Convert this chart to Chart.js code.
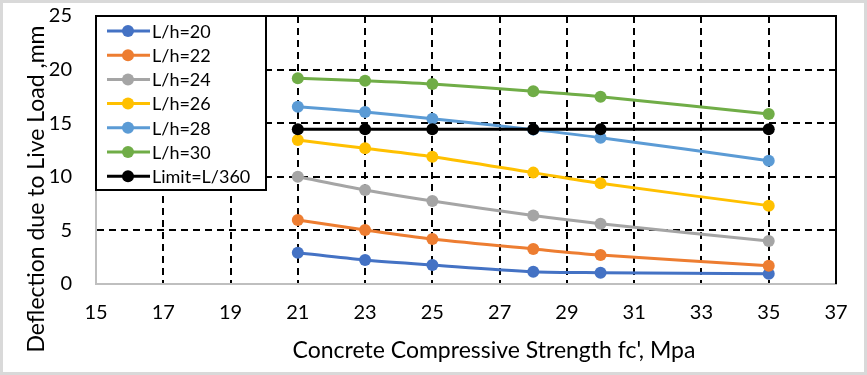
<!DOCTYPE html>
<html>
<head>
<meta charset="utf-8">
<script src="https://cdn.jsdelivr.net/npm/chart.js@4.4.0/dist/chart.umd.min.js"></script>
<style>
  html, body { margin: 0; padding: 0; background: #fff; }
</style>
</head>
<body>
<canvas id="myChart" width="867" height="375"></canvas>
<script>
// concrete strength fc' (MPa) and deflection (mm) per span/depth ratio
const strength = [21, 23, 25, 28, 30, 35];
const lh20 = [2.92, 2.24, 1.77, 1.15, 1.06, 0.96];
const lh22 = [5.97, 5.04, 4.20, 3.27, 2.70, 1.71];
const lh24 = [10.01, 8.77, 7.74, 6.38, 5.63, 4.01];
const lh26 = [13.43, 12.66, 11.88, 10.39, 9.39, 7.31];
const lh28 = [16.54, 16.04, 15.42, 14.40, 13.65, 11.50];
const lh30 = [19.19, 18.97, 18.66, 17.97, 17.47, 15.86];
const limit = [14.44, 14.44, 14.44, 14.44, 14.44, 14.44];

const seriesNames = ['L/h=20', 'L/h=22', 'L/h=24', 'L/h=26', 'L/h=28', 'L/h=30', 'Limit=L/360'];
const seriesValues = [lh20, lh22, lh24, lh26, lh28, lh30, limit];
const colors = ['#4472C4', '#ED7D31', '#A5A5A5', '#FFC000', '#5B9BD5', '#70AD47', '#000000'];

const xTitle = "Concrete Compressive Strength fc', Mpa";
const yTitle = 'Deflection due to Live Load ,mm';
const fontFamily = 'Lato, "Liberation Sans", sans-serif';

const datasets = seriesValues.map((vals, i) => ({
    label: seriesNames[i],
    data: vals.map((v, j) => ({ x: strength[j], y: v })),
    borderColor: colors[i],
    backgroundColor: colors[i],
    borderWidth: 3,
    pointRadius: 6,
    pointBorderWidth: 0,
    pointHoverRadius: 6,
    tension: 0.3,
    order: seriesValues.length - i
}));

// frame, titles and the boxed legend inside the plot
const decor = {
    id: 'decor',
    afterDraw(chart) {
        const { ctx, chartArea: a } = chart;
        ctx.save();
        // outer border
        ctx.strokeStyle = '#d9d9d9';
        ctx.lineWidth = 3;
        ctx.strokeRect(1.5, 1.5, chart.width - 3, chart.height - 3);

        // top + right plot border
        ctx.strokeStyle = '#000';
        ctx.lineWidth = 2;
        ctx.beginPath();
        ctx.moveTo(a.left, a.top);
        ctx.lineTo(a.right, a.top);
        ctx.lineTo(a.right, a.bottom);
        ctx.stroke();

        // legend
        const lx = a.left, ly = a.top, lw = 170, lh = 174;
        ctx.fillStyle = '#fff';
        ctx.fillRect(lx, ly, lw, lh);
        ctx.strokeRect(lx, ly, lw, lh);
        ctx.font = '18px ' + fontFamily;
        ctx.textBaseline = 'middle';
        ctx.textAlign = 'left';
        chart.data.datasets.forEach((ds, i) => {
            const cy = ly + 15 + i * 24.2;
            ctx.strokeStyle = ds.borderColor;
            ctx.lineWidth = 3;
            ctx.beginPath();
            ctx.moveTo(lx + 11, cy);
            ctx.lineTo(lx + 54, cy);
            ctx.stroke();
            ctx.fillStyle = ds.borderColor;
            ctx.beginPath();
            ctx.arc(lx + 32, cy, 6, 0, Math.PI * 2);
            ctx.fill();
            ctx.fillStyle = '#000';
            ctx.fillText(ds.label, lx + 56, cy + 1);
        });

        // axis titles
        ctx.fillStyle = '#000';
        ctx.font = '23px ' + fontFamily;
        ctx.textAlign = 'center';
        ctx.fillText(xTitle, 494, 351);
        ctx.translate(37, 189);
        ctx.rotate(-Math.PI / 2);
        ctx.fillText(yTitle, 0, 0);
        ctx.restore();
    }
};

const gridColor = (min, max) => (c) =>
    (c.tick && (c.tick.value === min || c.tick.value === max)) ? 'rgba(0,0,0,0)' : '#000';

new Chart(document.getElementById('myChart').getContext('2d'), {
    type: 'line',
    data: { datasets: datasets },
    options: {
        responsive: false,
        animation: false,
        layout: { padding: { top: 16, right: 31, left: 0, bottom: 0 } },
        plugins: { legend: { display: false }, tooltip: { enabled: false } },
        scales: {
            x: {
                type: 'linear',
                min: 15,
                max: 37,
                afterFit: (s) => { s.height = 91; s.paddingLeft = 0; s.paddingRight = 0; },
                ticks: { stepSize: 2, padding: 17, color: '#000', font: { family: fontFamily, size: 20 } },
                grid: { color: gridColor(15, 37), lineWidth: 2, drawTicks: false },
                border: { color: '#bfbfbf', width: 2, dash: [7, 5] }
            },
            y: {
                min: 0,
                max: 25,
                afterFit: (s) => { s.width = 96; s.paddingTop = 0; s.paddingBottom = 0; },
                ticks: { stepSize: 5, padding: 24, color: '#000', font: { family: fontFamily, size: 20 } },
                grid: { color: gridColor(0, 25), lineWidth: 2, drawTicks: false },
                border: { color: '#bfbfbf', width: 2, dash: [7, 5] }
            }
        }
    },
    plugins: [decor]
});
</script>
</body>
</html>
